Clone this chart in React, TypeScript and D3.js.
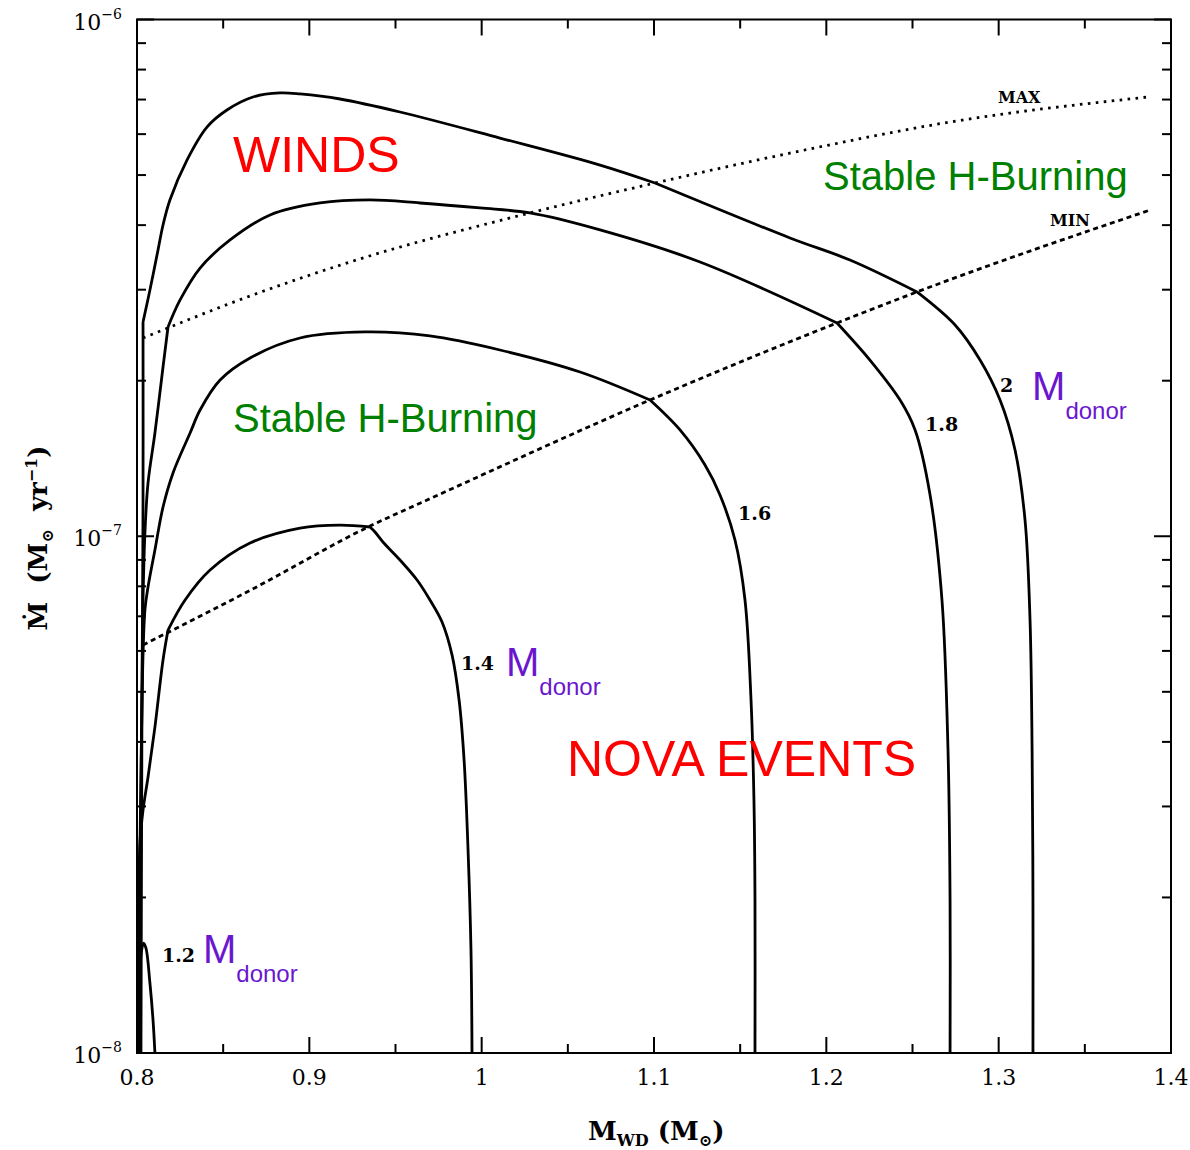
import React from 'react';
import * as d3 from 'd3';

// accretion rate values are in units of 1e-7 Msun/yr, x is white dwarf mass (Msun)
const donor20: [number, number][] = [
  [0.8023, 0.1], [0.8029, 0.482], [0.8035, 1.175], [0.8035, 2.598], [0.8075, 2.996],
  [0.8122, 3.581], [0.8151, 4.003], [0.8191, 4.475], [0.829, 5.346], [0.8406, 6.193],
  [0.8522, 6.682], [0.8673, 7.08], [0.883, 7.208], [0.8946, 7.176], [0.9178, 7.017],
  [0.9526, 6.622], [1.0106, 5.897], [1.0687, 5.228], [1.1006, 4.826], [1.1789, 3.778],
  [1.2137, 3.424], [1.2526, 2.97], [1.2747, 2.563], [1.2892, 2.193], [1.3008, 1.835],
  [1.3095, 1.469], [1.3153, 1.075], [1.3182, 0.6885], [1.3194, 0.3858], [1.3199, 0.1977],
  [1.3199, 0.1],
];

const donor18: [number, number][] = [
  [0.8017, 0.1], [0.8023, 0.3087], [0.8035, 0.7527], [0.8046, 1.015], [0.8064, 1.268],
  [0.8104, 1.584], [0.8151, 2.126], [0.818, 2.541], [0.825, 2.866], [0.8366, 3.304],
  [0.854, 3.744], [0.8772, 4.185], [0.9062, 4.415], [0.9352, 4.475], [0.9642, 4.415],
  [0.999, 4.318], [1.028, 4.223], [1.0687, 3.915], [1.1267, 3.394], [1.2062, 2.587],
  [1.2253, 2.193], [1.2428, 1.835], [1.2515, 1.606], [1.2602, 1.202], [1.2671, 0.7527],
  [1.2706, 0.3858], [1.2718, 0.1977], [1.2718, 0.1],
];

const donor16: [number, number][] = [
  [0.8012, 0.1], [0.8017, 0.247], [0.8029, 0.482], [0.8046, 0.7199], [0.8064, 0.7976],
  [0.8104, 0.9406], [0.8151, 1.139], [0.8209, 1.326], [0.8308, 1.584], [0.8366, 1.755],
  [0.8482, 2.006], [0.8656, 2.213], [0.8946, 2.419], [0.9323, 2.485], [0.97, 2.441],
  [1.0106, 2.293], [1.0571, 2.079], [1.0977, 1.835], [1.1151, 1.606], [1.1296, 1.374],
  [1.1383, 1.202], [1.147, 0.9834], [1.1528, 0.7527], [1.1563, 0.482], [1.158, 0.3087],
  [1.1586, 0.1977], [1.1586, 0.1],
];

const donor14: [number, number][] = [
  [0.8006, 0.1], [0.8012, 0.1977], [0.8017, 0.2549], [0.8035, 0.2953], [0.8064, 0.342],
  [0.8104, 0.4273], [0.8151, 0.5761], [0.818, 0.6585], [0.8279, 0.7527], [0.8424, 0.8603],
  [0.8656, 0.9704], [0.8946, 1.037], [0.9178, 1.051], [0.9352, 1.042], [0.9381, 1.019],
  [0.9427, 0.9747], [0.9526, 0.8996], [0.9625, 0.8228], [0.97, 0.7527], [0.977, 0.6824],
  [0.9828, 0.5893], [0.9869, 0.482], [0.9898, 0.3689], [0.9921, 0.247], [0.9938, 0.1582],
  [0.9944, 0.1],
];

const donor12: [number, number][] = [
  [0.8006, 0.1], [0.8012, 0.1266], [0.8023, 0.1547], [0.8038, 0.1632], [0.8052, 0.1596],
  [0.8075, 0.1366], [0.8093, 0.1158], [0.8104, 0.1],
];

// indices where a track has a sharp corner (crossing of the MAX / MIN limits)
const donor20Kinks = [3, 18, 21];
const donor18Kinks = [7, 19];
const donor16Kinks = [17];
const donor14Kinks = [7, 13];
const donor12Kinks: number[] = [];

const maxLine: [number, number][] = [
  [0.8035, 2.419], [0.8656, 2.917], [0.9236, 3.394], [1.028, 4.223], [1.1006, 4.826],
  [1.1847, 5.565], [1.2718, 6.333], [1.3867, 7.08],
];

const minLine: [number, number][] = [
  [0.8035, 0.6159], [0.8638, 0.78], [0.9364, 1.051], [0.9683, 1.175], [1.0977, 1.835],
  [1.2062, 2.587], [1.2526, 2.97], [1.3879, 4.279],
];

const xMajor = [0.8, 0.9, 1.0, 1.1, 1.2, 1.3, 1.4];
const xMinor = [0.85, 0.95, 1.05, 1.15, 1.25, 1.35];
const yDecades = [-8, -7, -6];
const xTickLabels = ['0.8', '0.9', '1', '1.1', '1.2', '1.3', '1.4'];

// region captions: [text, mass, rate(1e-7)]
const redLabels: [string, number, number][] = [
  ['WINDS', 0.8557, 5.07],
  ['NOVA EVENTS', 1.0495, 0.3436],
];
const greenLabels: [string, number, number][] = [
  ['Stable H-Burning', 0.8557, 1.591],
  ['Stable H-Burning', 1.1981, 4.678],
];
const donorNumbers: [string, number, number][] = [
  ['2', 1.3008, 1.902],
  ['1.8', 1.2573, 1.598],
  ['1.6', 1.1488, 1.075],
  ['1.4', 0.988, 0.5512],
  ['1.2', 0.8145, 0.15],
];
const donorTags: [number, number][] = [
  [1.3194, 1.835],
  [1.0141, 0.5366],
  [0.8383, 0.1493],
];
const limitLabels: [string, number, number][] = [
  ['MAX', 1.2996, 6.894],
  ['MIN', 1.3298, 3.985],
];

const W = 1190;
const H = 1150;
const left = 137, right = 1171, top = 19.5, bottom = 1053;

const App: React.FC = () => {
  const x = d3.scaleLinear().domain([0.8, 1.4]).range([left, right]);
  const y = d3.scaleLog().domain([1e-8, 1e-6]).range([bottom, top]);
  const yv = (v: number) => y(v * 1e-7);

  const line = d3.line<[number, number]>()
    .x(d => x(d[0]))
    .y(d => yv(d[1]))
    .curve(d3.curveCatmullRom.alpha(0.5));

  const straight = d3.line<[number, number]>()
    .x(d => x(d[0]))
    .y(d => yv(d[1]))
    .curve(d3.curveMonotoneX);

  // draw each smooth piece between corners separately so corners stay sharp
  const track = (pts: [number, number][], kinks: number[]) => {
    const cuts = [0, ...kinks, pts.length - 1];
    let d = '';
    for (let i = 0; i < cuts.length - 1; i++) {
      d += line(pts.slice(cuts[i], cuts[i + 1] + 1)) || '';
    }
    return d;
  };

  const tracks: [[number, number][], number[]][] = [
    [donor20, donor20Kinks],
    [donor18, donor18Kinks],
    [donor16, donor16Kinks],
    [donor14, donor14Kinks],
    [donor12, donor12Kinks],
  ];

  const yMinor: number[] = [];
  [-8, -7].forEach(k => {
    for (let m = 2; m <= 9; m++) yMinor.push(m * Math.pow(10, k));
  });

  const serif = 'DejaVu Serif, serif';
  const sans = 'Liberation Sans, Arial, sans-serif';
  const nb = '\u00A0';

  return (
    <div style={{ position: 'absolute', left: 0, top: 0 }}>
      <svg width={W} height={H} style={{ display: 'block', background: '#fff' }}>
        <defs>
          <clipPath id="plot">
            <rect x={left} y={top} width={right - left} height={bottom - top} />
          </clipPath>
        </defs>

        {/* curves */}
        <g clipPath="url(#plot)" fill="none" stroke="#000">
          {tracks.map(([c, k], i) => (
            <path key={i} d={track(c, k)} strokeWidth={2.8} strokeLinejoin="round" />
          ))}
          <path d={straight(maxLine) || ''} strokeWidth={2.8} strokeDasharray="2.6 5.4" />
          <path d={straight(minLine) || ''} strokeWidth={2.8} strokeDasharray="5 3.8" />
        </g>

        {/* frame */}
        <rect x={left} y={top} width={right - left} height={bottom - top} fill="none" stroke="#000" strokeWidth={2} />

        {/* ticks */}
        <g stroke="#000" strokeWidth={2}>
          {xMajor.map(v => (
            <g key={'xM' + v}>
              <line x1={x(v)} x2={x(v)} y1={bottom} y2={bottom - 16} />
              <line x1={x(v)} x2={x(v)} y1={top} y2={top + 16} />
            </g>
          ))}
          {xMinor.map(v => (
            <g key={'xm' + v}>
              <line x1={x(v)} x2={x(v)} y1={bottom} y2={bottom - 9} />
              <line x1={x(v)} x2={x(v)} y1={top} y2={top + 9} />
            </g>
          ))}
          {yDecades.map(k => (
            <g key={'yM' + k}>
              <line x1={left} x2={left + 17} y1={y(Math.pow(10, k))} y2={y(Math.pow(10, k))} />
              <line x1={right} x2={right - 17} y1={y(Math.pow(10, k))} y2={y(Math.pow(10, k))} />
            </g>
          ))}
          {yMinor.map(v => (
            <g key={'ym' + v}>
              <line x1={left} x2={left + 9} y1={y(v)} y2={y(v)} />
              <line x1={right} x2={right - 9} y1={y(v)} y2={y(v)} />
            </g>
          ))}
        </g>

        {/* tick labels */}
        <g fontFamily={serif} fontSize={22} fill="#000">
          {xMajor.map((v, i) => (
            <text key={'xl' + v} x={x(v)} y={bottom + 32} textAnchor="middle">{xTickLabels[i]}</text>
          ))}
          {yDecades.map(k => (
            <text key={'yl' + k} x={left - 15} y={y(Math.pow(10, k)) + 10} textAnchor="end">
              10<tspan fontSize={14} dy={-11}>{'\u2212' + Math.abs(k)}</tspan>
            </text>
          ))}
        </g>

        {/* axis titles */}
        <text x={588} y={1140} fontFamily={serif} fontSize={26} fontWeight="bold">
          M<tspan fontSize={16} dy={6}>WD</tspan><tspan dy={-6}>{nb + '(M'}</tspan><tspan fontSize={16} dy={6}>{'\u2299'}</tspan><tspan dy={-6}>)</tspan>
        </text>
        <text transform={`translate(47, 538) rotate(-90)`} textAnchor="middle" fontFamily={serif} fontSize={26}
          fontWeight="bold">
          {'\u1E40' + nb + nb + '(M'}<tspan fontSize={16} dy={6}>{'\u2299'}</tspan><tspan dy={-6}>{nb + nb + 'yr'}</tspan><tspan fontSize={16} dy={-10}>{'\u22121'}</tspan><tspan dy={10}>)</tspan>
        </text>

        {/* region captions */}
        <g fontFamily={sans}>
          {redLabels.map(([t, m, v], i) => (
            <text key={'r' + i} x={x(m)} y={yv(v)} fontSize={50} fill="#ff0000">{t}</text>
          ))}
          {greenLabels.map(([t, m, v], i) => (
            <text key={'g' + i} x={x(m)} y={yv(v)} fontSize={40} fill="#008000">{t}</text>
          ))}
          {donorTags.map(([m, v], i) => (
            <text key={'d' + i} x={x(m)} y={yv(v)} fontSize={40} fill="#6a16cf">
              M<tspan fontSize={24} dy={19}>donor</tspan>
            </text>
          ))}
        </g>

        <g fontFamily={serif} fontWeight="bold" fill="#000">
          {donorNumbers.map(([t, m, v]) => (
            <text key={'n' + t} x={x(m)} y={yv(v)} fontSize={19}>{t}</text>
          ))}
          {limitLabels.map(([t, m, v]) => (
            <text key={'l' + t} x={x(m)} y={yv(v)} fontSize={16}>{t}</text>
          ))}
        </g>
      </svg>
    </div>
  );
};

export default App;
